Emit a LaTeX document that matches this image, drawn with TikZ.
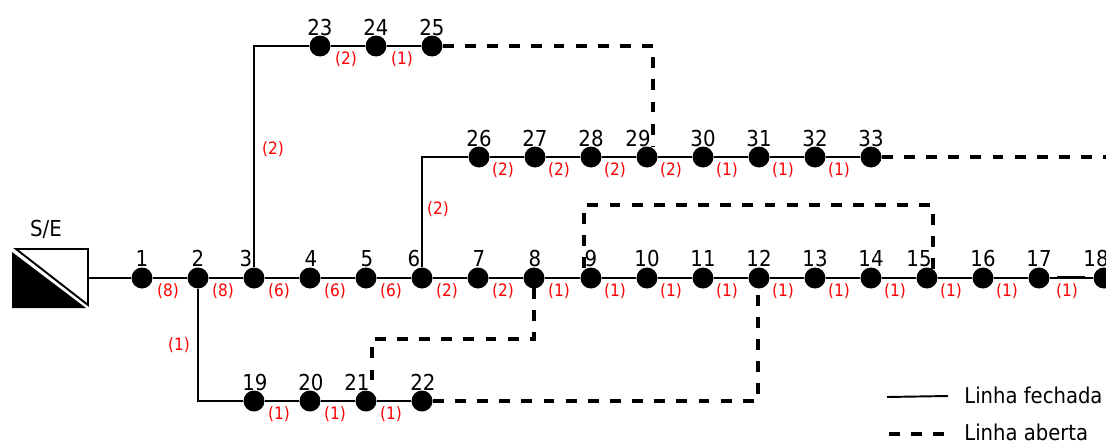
\documentclass[tikz,border=0pt]{standalone}
\usepackage{fontspec}
\setmainfont[FakeStretch=0.9]{DejaVu Sans}
\usetikzlibrary{calc,positioning}

\begin{document}
\begin{tikzpicture}[x=0.02cm,y=-0.02cm]

\tikzset{bus/.style={circle, fill=black, draw=none, inner sep=0pt, minimum size=0.42cm},
         num/.style={inner sep=0pt, anchor=base, font=\fontsize{12.5}{12.5}\selectfont},
         leg/.style={inner sep=0pt, anchor=base west, font=\fontsize{12.4}{12.4}\selectfont},
         load/.style={inner sep=0pt, anchor=base, text=red, font=\fontsize{9.7}{9.7}\selectfont},
         fechada/.style={line width=1.1pt},
         aberta/.style={line width=2.3pt, dash pattern=on 6.2pt off 6.4pt}}

\clip (0,0) rectangle (1106,443);
\useasboundingbox (0,0) rectangle (1106,443);

% barras
\foreach \i/\x in {1/142,2/198,3/254,4/310,5/366,6/422,7/478,8/534,9/591,10/647,11/703,12/759,13/815,14/871,15/927,16/983,17/1039,18/1104}{\node[bus] (\i) at (\x,278){};}
\foreach \i/\x in {19/254,20/310,21/366,22/422}{\node[bus] (\i) at (\x,401){};}
\foreach \i/\x in {23/320,24/376,25/432}{\node[bus] (\i) at (\x,46){};}
\foreach \i/\x in {26/479,27/535,28/591,29/647,30/703,31/759,32/815,33/871}{\node[bus] (\i) at (\x,157){};}

% numeros
\foreach \i/\x in {1/142,2/198,3/246,4/311,5/367,6/414,7/479,8/535,9/591,10/647,11/703,12/759,13/815,14/871,15/919,16/983,17/1039,18/1096}{\node[num] (n\i) at (\x,266){\i};}
\foreach \i/\x in {19/255,20/311,21/357,22/423}{\node[num] (n\i) at (\x,390){\i};}
\foreach \i/\x in {23/320,24/376,25/432}{\node[num] (n\i) at (\x,35){\i};}
\foreach \i/\x in {26/479,27/535,28/591,29/638,30/703,31/759,32/815,33/871}{\node[num] (n\i) at (\x,146){\i};}

% cargas
\foreach \v/\x/\y in {8/168/296,8/223/296,6/279/296,6/335/296,6/391/296,2/447/296,2/503/296,1/559/296,1/615/296,1/671/296,1/727/296,1/783/296,1/839/296,1/895/296,1/951/296,1/1007/296,1/1067/296,
2/346/64,1/402/64,2/503/175,2/559/175,2/615/175,2/671/175,1/727/175,1/783/175,1/839/175,1/279/419,1/335/419,1/391/419,2/273/154,2/438/214,1/179/350}{\node[load] at (\x,\y){(\v)};}

% subestacao
\node[num] (se) at (46,236){S/E};
\draw[fechada] (16,249) coordinate (a) -- (88,249) coordinate (b) -- (88,305) coordinate (c) -- cycle;
\fill (12,252) -- (12,308) -- (86,308) -- cycle;
\coordinate (sa) at (88,278);
\draw[fechada] (sa) -- (1);

% linhas fechadas
\foreach \i/\j in {1/2,2/3,3/4,4/5,5/6,6/7,7/8,8/9,9/10,10/11,11/12,12/13,13/14,14/15,15/16,16/17,17/18,19/20,20/21,21/22,23/24,24/25,26/27,27/28,28/29,29/30,30/31,31/32,32/33}{\draw[fechada] (\i) -- (\j);}
\draw[fechada] (3) |- (23);
\draw[fechada] (6) |- (26);
\draw[fechada] (2) |- (19);
\coordinate (t1) at (1057,277);
\coordinate (t2) at (1085,277);
\draw[line width=1.7pt] (t1) -- (t2);

% linhas abertas
\coordinate (c29) at (653,146);
\coordinate (c9) at (584,268);
\coordinate (c15) at (933,272);
\coordinate (c21) at (372,385);
\coordinate (c8) at (534,288);
\coordinate (c12) at (758,288);
\coordinate (fim) at (1110,157);
\draw[aberta] (25) -| (c29);
\draw[aberta] (33) -- (fim);
\draw[aberta] (c9) -- (584,205) -| (c15);
\draw[aberta] (c8) -- (534,339) -| (c21);
\draw[aberta] (22) -| (c12);

% legenda
\coordinate (f1) at (887,397);
\coordinate (f2) at (948,396);
\coordinate (g1) at (889,434);
\coordinate (g2) at (947,434);
\draw[fechada] (f1) -- (f2);
\draw[aberta] (g1) -- (g2);
\node[leg] (lf) at (964,403){Linha fechada};
\node[leg] (la) at (964,440){Linha aberta};

\end{tikzpicture}
\end{document}
